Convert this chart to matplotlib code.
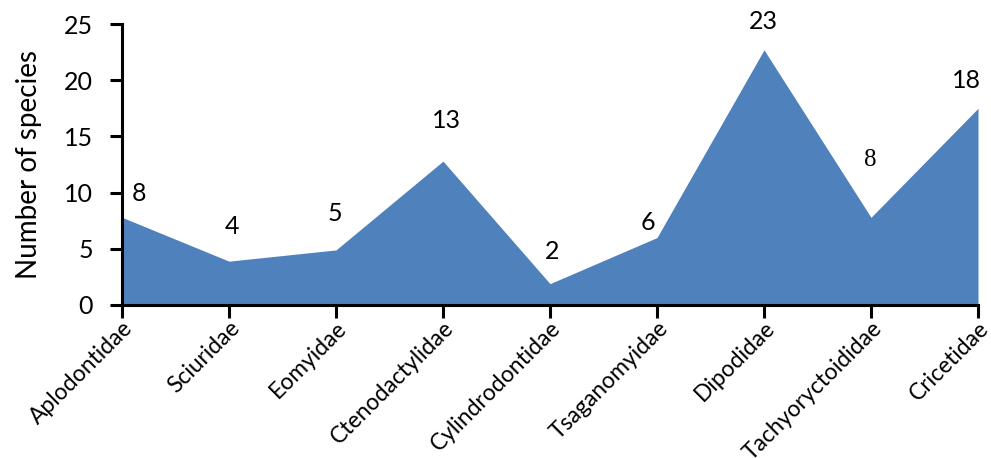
import matplotlib
matplotlib.use("Agg")
import matplotlib.pyplot as plt

families = ["Aplodontidae", "Sciuridae", "Eomyidae", "Ctenodactylidae",
            "Cylindrodontidae", "Tsaganomyidae", "Dipodidae",
            "Tachyoryctoididae", "Cricetidae"]
# heights as drawn in the picture, and the counts written above them
heights = [7.8, 3.9, 4.9, 12.8, 1.9, 6.0, 22.7, 7.8, 17.5]
counts = [8, 4, 5, 13, 2, 6, 23, 8, 18]

# label offsets in pixels (the labels were moved by hand in the original)
label_dx = [17, 3, -1, 3, 2, -9, -1, -1, -12]
label_dy = [24, 35, 36, 41, 32, 15, 28, 57, 28]

plt.rcParams["font.family"] = ["Lato", "DejaVu Sans"]

fig = plt.figure(figsize=(9.91, 4.58), dpi=100)
ax = fig.add_axes([122 / 991, 1 - 305 / 458, (978 - 122) / 991, (305 - 24) / 458])

x = list(range(len(families)))
ax.fill_between(x, heights, 0, color="#4f81bd", linewidth=0)

for i in x:
    fam = "Liberation Serif" if i == 7 else "Lato"
    ax.annotate(str(counts[i]), (i, heights[i]),
                xytext=(label_dx[i], label_dy[i]), textcoords="offset pixels",
                ha="center", va="center", fontsize=18, family=fam)

ax.set_xlim(0, len(families) - 1)
ax.set_ylim(0, 25)
ax.set_yticks([0, 5, 10, 15, 20, 25])
ax.set_xticks(x)
ax.set_xticklabels(families, rotation=45, ha="right", rotation_mode="anchor")
ax.set_ylabel("Number of species", fontsize=20)
ax.yaxis.set_label_coords(-0.093, 0.5)

for s in ["top", "right"]:
    ax.spines[s].set_visible(False)
for s in ["left", "bottom"]:
    ax.spines[s].set_linewidth(2.2)
ax.tick_params(direction="out", length=9, width=2.2)
ax.tick_params(axis="y", labelsize=18, pad=12)
ax.tick_params(axis="x", labelsize=16.5, pad=0)

fig.savefig("out.png", dpi=100)
